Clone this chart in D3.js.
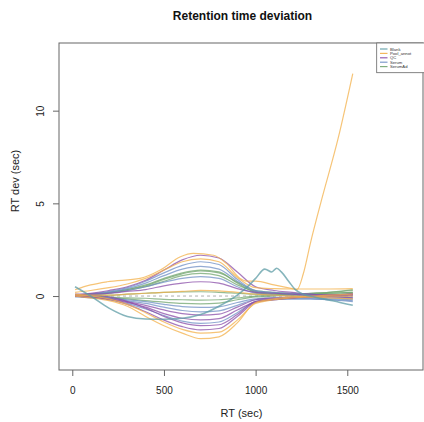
<!DOCTYPE html>
<html>
<head>
<meta charset="utf-8">
<script src="https://cdn.jsdelivr.net/npm/d3@7"></script>
<style>
  html, body { margin: 0; padding: 0; background: #fff; }
  svg { display: block; font-family: "Liberation Sans", Arial, sans-serif; }
</style>
</head>
<body>
<svg id="chart" width="424" height="422"></svg>
<script>
// ---------------- DATA ----------------
const groups = ["Blank", "Pool_annot", "QC", "Serum", "SerumAd"];
const groupColors = ["#5E9CA6", "#F3B04A", "#8A4DA8", "#6F8FC4", "#72A56F"];
const xTicks = [0, 500, 1000, 1500];
const yTicks = [0, 5, 10];

// common RT grid (sec)
const rtGrid = [15, 100, 200, 300, 400, 500, 600, 700, 800, 900, 1000, 1100, 1200, 1300, 1400, 1530];

// Blank sample (own RT points)
const blankRT  = [15, 100, 200, 300, 400, 500, 600, 700, 800, 900, 950, 1000, 1050, 1088, 1115, 1140, 1180, 1215, 1260, 1320, 1420, 1530];
const blank1   = [0.5, 0.0, -0.65, -1.1, -1.24, -1.25, -1.2, -1.0, -0.55, 0.05, 0.45, 0.95, 1.45, 1.3, 1.5, 1.3, 0.8, 0.36, 0.1, -0.05, -0.25, -0.5];

// Pool_annot sample with late drift (own RT points)
const poolRT   = [15, 100, 190, 370, 480, 590, 660, 770, 840, 915, 950, 1000, 1100, 1200, 1226, 1260, 1300, 1360, 1450, 1530];
const pool1    = [0.34, 0.6, 0.77, 0.95, 1.4, 2.12, 2.3, 2.2, 1.76, 0.95, 0.8, 0.8, 0.6, 0.4, 0.35, 1.2, 2.9, 5.2, 8.5, 12.0];

// other samples on the common grid
const pool2  = [0.2, 0.3, 0.45, 0.65, 0.95, 1.4, 1.85, 2.0, 1.85, 1.0, 0.45, 0.4, 0.38, 0.38, 0.38, 0.4];
const pool3  = [0.05, 0.0, -0.15, -0.45, -0.9, -1.4, -1.8, -2.0, -1.95, -1.3, -0.4, -0.2, -0.1, -0.05, 0.0, 0.0];
const pool4  = [0.0, -0.1, -0.25, -0.55, -1.1, -1.6, -2.0, -2.3, -2.2, -1.45, -0.35, -0.15, -0.05, 0.0, 0.05, 0.1];
const pool5  = [0.1, 0.05, 0.05, 0.1, 0.15, 0.2, 0.25, 0.3, 0.28, 0.2, 0.1, 0.05, 0.0, -0.05, -0.1, -0.15];

const qc1    = [0.1, 0.15, 0.3, 0.5, 0.85, 1.4, 1.95, 2.2, 2.05, 1.3, 0.5, 0.3, 0.2, 0.1, 0.05, 0.05];
const qc2    = [0.05, 0.1, 0.15, 0.25, 0.35, 0.55, 0.7, 0.77, 0.7, 0.4, 0.2, 0.15, 0.1, 0.05, 0.05, 0.1];
const qc3    = [0.0, -0.05, -0.15, -0.3, -0.5, -0.75, -0.95, -1.03, -0.98, -0.6, -0.2, -0.1, -0.05, 0.0, 0.05, 0.1];
const qc4    = [0.0, -0.05, -0.15, -0.35, -0.6, -0.95, -1.2, -1.29, -1.22, -0.75, -0.3, -0.15, -0.1, -0.05, -0.05, -0.1];
const qc5    = [0.0, -0.05, -0.2, -0.45, -0.85, -1.3, -1.65, -1.83, -1.75, -1.1, -0.35, -0.2, -0.1, 0.0, 0.05, 0.1];
const qc6    = [0.05, 0.05, -0.05, -0.3, -0.65, -1.1, -1.45, -1.6, -1.55, -1.0, -0.3, -0.2, -0.1, -0.05, 0.0, 0.05];

const serum1 = [0.05, 0.1, 0.25, 0.45, 0.8, 1.25, 1.65, 1.85, 1.7, 0.9, 0.3, 0.2, 0.15, 0.1, 0.0, -0.1];
const serum2 = [0.05, 0.1, 0.2, 0.4, 0.7, 1.1, 1.45, 1.6, 1.45, 0.8, 0.25, 0.15, 0.1, 0.05, 0.0, -0.05];
const serum3 = [0.0, -0.05, -0.1, -0.2, -0.3, -0.45, -0.57, -0.61, -0.58, -0.35, -0.15, -0.1, -0.1, -0.1, -0.15, -0.2];
const serum4 = [0.0, -0.05, -0.1, -0.25, -0.4, -0.6, -0.78, -0.85, -0.8, -0.5, -0.2, -0.15, -0.15, -0.15, -0.2, -0.3];
const serum5 = [-0.05, -0.1, -0.2, -0.4, -0.7, -1.05, -1.35, -1.47, -1.4, -0.9, -0.3, -0.2, -0.15, -0.15, -0.2, -0.25];
const serum6 = [0.05, 0.05, 0.15, 0.3, 0.5, 0.75, 0.95, 1.05, 0.95, 0.5, 0.15, 0.05, 0.0, -0.05, -0.1, -0.15];

const serumAd1 = [0.0, 0.1, 0.2, 0.35, 0.6, 0.95, 1.25, 1.4, 1.3, 0.7, 0.2, 0.1, 0.05, 0.05, 0.05, 0.1];
const serumAd2 = [0.05, 0.1, 0.2, 0.35, 0.55, 0.9, 1.2, 1.35, 1.25, 0.75, 0.3, 0.2, 0.15, 0.1, 0.1, 0.15];
const serumAd3 = [0.0, 0.05, 0.15, 0.3, 0.5, 0.8, 1.1, 1.22, 1.1, 0.6, 0.25, 0.15, 0.1, 0.1, 0.15, 0.2];
const serumAd4 = [0.0, 0.05, 0.05, 0.1, 0.15, 0.2, 0.22, 0.23, 0.2, 0.15, 0.1, 0.1, 0.1, 0.15, 0.2, 0.3];
const serumAd5 = [0.0, 0.0, -0.05, -0.1, -0.12, -0.18, -0.2, -0.22, -0.2, -0.1, 0.0, 0.05, 0.1, 0.15, 0.2, 0.35];
const serumAd6 = [0.05, 0.0, -0.1, -0.15, -0.25, -0.33, -0.4, -0.42, -0.38, -0.2, -0.05, 0.0, 0.05, 0.1, 0.15, 0.2];

const samples = [
  { group: "SerumAd", rt: rtGrid, v: serumAd1 },
  { group: "SerumAd", rt: rtGrid, v: serumAd2 },
  { group: "SerumAd", rt: rtGrid, v: serumAd3 },
  { group: "SerumAd", rt: rtGrid, v: serumAd4 },
  { group: "SerumAd", rt: rtGrid, v: serumAd5 },
  { group: "SerumAd", rt: rtGrid, v: serumAd6 },
  { group: "Serum", rt: rtGrid, v: serum1 },
  { group: "Serum", rt: rtGrid, v: serum2 },
  { group: "Serum", rt: rtGrid, v: serum3 },
  { group: "Serum", rt: rtGrid, v: serum4 },
  { group: "Serum", rt: rtGrid, v: serum5 },
  { group: "Serum", rt: rtGrid, v: serum6 },
  { group: "QC", rt: rtGrid, v: qc1 },
  { group: "QC", rt: rtGrid, v: qc2 },
  { group: "QC", rt: rtGrid, v: qc3 },
  { group: "QC", rt: rtGrid, v: qc4 },
  { group: "QC", rt: rtGrid, v: qc5 },
  { group: "QC", rt: rtGrid, v: qc6 },
  { group: "Pool_annot", rt: rtGrid, v: pool2 },
  { group: "Pool_annot", rt: rtGrid, v: pool3 },
  { group: "Pool_annot", rt: rtGrid, v: pool4 },
  { group: "Pool_annot", rt: rtGrid, v: pool5 },
  { group: "Pool_annot", rt: poolRT, v: pool1 },
  { group: "Blank", rt: blankRT, v: blank1 }
];

// ---------------- CHART ----------------
const svg = d3.select("#chart");
const L = 59, R = 423, T = 43, B = 370;

const x = d3.scaleLinear().domain([-72.5, 1913]).range([L, R]);
const y = d3.scaleLinear().domain([-3.99, 13.65]).range([B, T]);
const color = d3.scaleOrdinal().domain(groups).range(groupColors);

const defs = svg.append("defs");
defs.append("clipPath").attr("id", "clip")
  .append("rect").attr("x", L).attr("y", T).attr("width", R - L).attr("height", B - T);

// title
svg.append("text")
  .attr("x", 242.5).attr("y", 20)
  .attr("text-anchor", "middle")
  .attr("font-size", 12).attr("font-weight", "bold").attr("fill", "#111")
  .text("Retention time deviation");

// zero reference line (dashed)
svg.append("line")
  .attr("x1", x(15)).attr("x2", x(1530))
  .attr("y1", y(0)).attr("y2", y(0))
  .attr("stroke", "#999").attr("stroke-width", 0.8)
  .attr("stroke-dasharray", "3,3");

// sample lines
const line = d3.line()
  .x(d => x(d[0])).y(d => y(d[1]))
  .curve(d3.curveMonotoneX);

svg.append("g").attr("clip-path", "url(#clip)")
  .selectAll("path")
  .data(samples)
  .join("path")
  .attr("d", s => line(s.rt.map((r, i) => [r, s.v[i]])))
  .attr("fill", "none")
  .attr("stroke", s => color(s.group))
  .attr("stroke-width", s => s.group === "Blank" ? 1.6 : 1.2)
  .attr("stroke-opacity", 0.75);

// box
svg.append("rect")
  .attr("x", L).attr("y", T).attr("width", R - L).attr("height", B - T)
  .attr("fill", "none").attr("stroke", "#666").attr("stroke-width", 1);

// x axis
const xAxis = svg.append("g")
  .attr("transform", `translate(0,${B})`)
  .call(d3.axisBottom(x).tickValues(xTicks).tickSize(6).tickFormat(d3.format("d")));
xAxis.select(".domain").remove();
xAxis.selectAll(".tick line").attr("stroke", "#666");
xAxis.selectAll(".tick text")
  .attr("y", 24).attr("dy", 0)
  .attr("font-size", 10).attr("fill", "#222")
  .attr("font-family", "Liberation Sans, Arial, sans-serif");

// y axis
const yAxis = svg.append("g")
  .attr("transform", `translate(${L},0)`)
  .call(d3.axisLeft(y).tickValues(yTicks).tickSize(6).tickFormat(d3.format("d")));
yAxis.select(".domain").remove();
yAxis.selectAll(".tick line").attr("stroke", "#666");
yAxis.selectAll(".tick text")
  .attr("x", 0).attr("y", 0).attr("dy", 0)
  .attr("text-anchor", "middle")
  .attr("transform", "translate(-15.5,0) rotate(-90)")
  .attr("font-size", 10).attr("fill", "#222")
  .attr("font-family", "Liberation Sans, Arial, sans-serif");

// axis titles
svg.append("text")
  .attr("x", 241.5).attr("y", 417)
  .attr("text-anchor", "middle")
  .attr("font-size", 11).attr("fill", "#222")
  .text("RT (sec)");

svg.append("text")
  .attr("transform", "translate(19,181) rotate(-90)")
  .attr("text-anchor", "middle")
  .attr("font-size", 11).attr("fill", "#222")
  .text("RT dev (sec)");

// legend
const lg = svg.append("g");
lg.append("rect")
  .attr("x", 376.7).attr("y", T).attr("width", 60).attr("height", 29.7)
  .attr("fill", "#fff").attr("stroke", "#666").attr("stroke-width", 0.8);
groups.forEach((g, i) => {
  const yy = 49 + i * 4.4;
  lg.append("line")
    .attr("x1", 380).attr("x2", 387.5).attr("y1", yy).attr("y2", yy)
    .attr("stroke", color(g)).attr("stroke-width", 1.2).attr("stroke-opacity", 0.9);
  lg.append("text")
    .attr("x", 390).attr("y", yy + 1.5)
    .attr("font-size", 4.2).attr("fill", "#333")
    .text(g);
});
</script>
</body>
</html>
